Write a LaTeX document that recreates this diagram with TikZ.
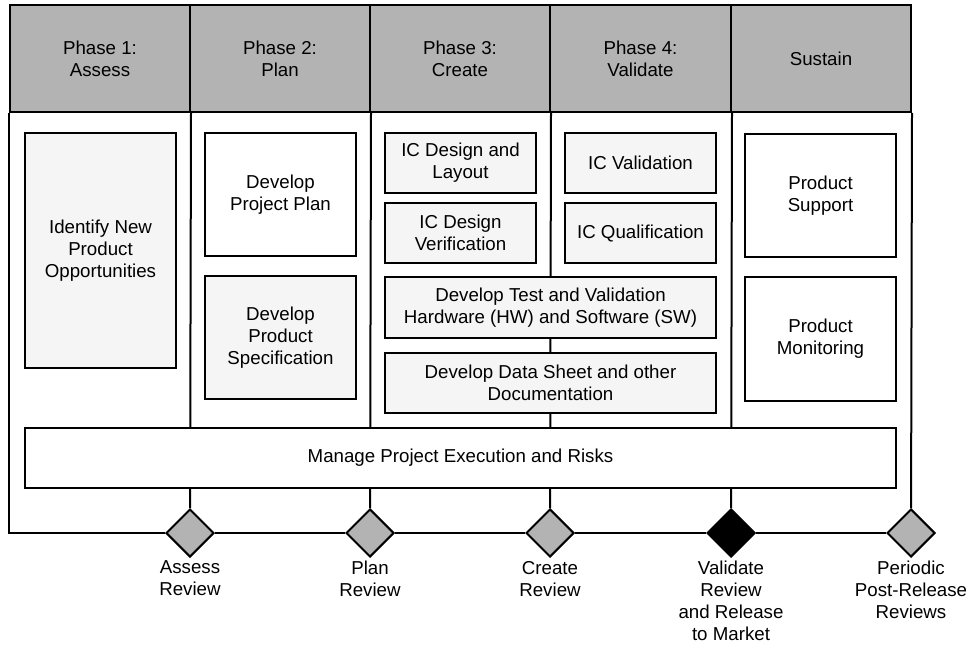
\documentclass[tikz,border=0pt]{standalone}
\usepackage{fontspec}
\setmainfont{Liberation Sans}
\usepackage{tikz}
\usetikzlibrary{shapes.geometric, positioning, backgrounds}
\definecolor{headGray}{HTML}{B3B3B3}
\definecolor{softBgA}{HTML}{F5F5F5}

\begin{document}
\begin{tikzpicture}[x=1pt, y=-1pt, line width=2pt,
    font=\fontsize{18.7}{22}\selectfont,
    headCell/.style={draw=black, fill=headGray, align=center, minimum width=180pt, minimum height=107pt},
    taskBox/.style={draw=black, fill=softBgA, align=center, inner sep=2pt},
    plainBox/.style={taskBox, fill=white},
    gate/.style={diamond, draw=black, fill=headGray, inner sep=0pt, minimum size=48pt},
    gateLabel/.style={below=1pt of #1, align=center, inner sep=1pt},
    frameLine/.style={draw=black, line width=2pt}]
    \useasboundingbox (0,0) rectangle (969,647);

    % Header row
    \node[headCell] (hdAssess) at (100,58.5) {Phase 1:\\Assess};
    \node[headCell] (hdPlan) at (280,58.5) {Phase 2:\\Plan};
    \node[headCell] (hdCreate) at (460,58.5) {Phase 3:\\Create};
    \node[headCell, minimum width=181pt] (hdValid) at (640.5,58.5) {Phase 4:\\Validate};
    \node[headCell] (hdSustain) at (821,58.5) {Sustain};

    % Phase 1 and 2
    \node[taskBox, minimum width=151pt, minimum height=235pt] (identify) at (100.5,250.5) {Identify New\\Product\\Opportunities};
    \node[plainBox, minimum width=151pt, minimum height=123pt] (projPlan) at (280.5,194.5) {Develop\\Project Plan};
    \node[taskBox, minimum width=151pt, minimum height=123pt] (prodSpec) at (280.5,337.5) {Develop\\Product\\Specification};

    % Phase 3 and 4
    \node[taskBox, minimum width=151pt, minimum height=60pt] (icLayout) at (460.5,163) {IC Design and\\Layout};
    \node[taskBox, minimum width=151pt, minimum height=60pt] (icVerif) at (460.5,233) {IC Design\\Verification};
    \node[taskBox, minimum width=151pt, minimum height=60pt] (icValid) at (640.5,163) {IC Validation};
    \node[taskBox, minimum width=151pt, minimum height=60pt] (icQual) at (640.5,233) {IC Qualification};
    \node[taskBox, minimum width=331pt, minimum height=61pt] (testHw) at (550.5,307.5) {Develop Test and Validation\\Hardware (HW) and Software (SW)};
    \node[taskBox, minimum width=331pt, minimum height=60pt] (dataSheet) at (550.5,383) {Develop Data Sheet and other\\Documentation};

    % Sustain
    \node[plainBox, minimum width=151pt, minimum height=123pt] (prodSupport) at (820.5,195.5) {Product\\Support};
    \node[plainBox, minimum width=151pt, minimum height=124pt] (prodMonitor) at (820.5,339) {Product\\Monitoring};

    % Bar across all phases
    \node[plainBox, minimum width=871pt, minimum height=60pt] (manage) at (460.5,458) {Manage Project Execution and Risks};

    % Review gates
    \node[gate] (gAssess) at (190,533) {};
    \node[gate] (gPlan) at (370,533) {};
    \node[gate] (gCreate) at (550,533) {};
    \node[gate, fill=black] (gValid) at (731,533) {};
    \node[gate] (gSustain) at (911,533) {};

    \node[gateLabel=gAssess] (lAssess) {Assess\\Review};
    \node[gateLabel=gPlan] (lPlan) {Plan\\Review};
    \node[gateLabel=gCreate] (lCreate) {Create\\Review};
    \node[gateLabel=gValid] (lValid) {Validate\\Review\\and Release\\to Market};
    \node[gateLabel=gSustain] (lSustain) {Periodic\\Post-Release\\Reviews};

    % Frame and column lines
    \begin{scope}[on background layer]
        \draw[frameLine] (hdAssess.south west) |- (gAssess) -- (gPlan) -- (gCreate) -- (gValid) -- (gSustain);
        \draw[frameLine] (hdAssess.south east) -- (gAssess);
        \draw[frameLine] (hdPlan.south east) -- (gPlan);
        \draw[frameLine] (hdCreate.south east) -- (gCreate);
        \draw[frameLine] (hdValid.south east) -- (gValid);
        \draw[frameLine] (hdSustain.south east) -- (gSustain);
    \end{scope}
\end{tikzpicture}
\end{document}
